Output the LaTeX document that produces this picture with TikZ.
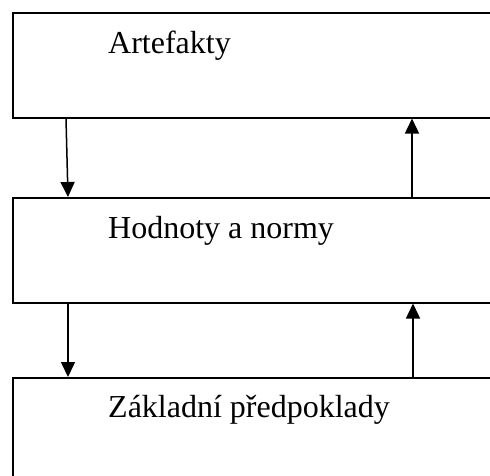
\documentclass[tikz,border=0pt]{standalone}
\usepackage{fontspec}
\setmainfont{Liberation Serif}
\usetikzlibrary{arrows.meta}
\tikzset{layerbox/.style={draw,line width=1.5pt,rectangle,minimum width=520pt,
  minimum height=105pt,inner sep=0pt,anchor=north west},
  layertext/.style={anchor=base west,inner sep=0pt,font=\fontsize{32}{38}\selectfont},
  flowarr/.style={line width=1.5pt,-{Triangle[width=14pt,length=15pt]}}}
\begin{document}
\begin{tikzpicture}[x=1pt,y=-1pt]
  \useasboundingbox (0,0) rectangle (490,475);
  \node[layerbox] (art) at (12,12) {};
  \node[layerbox] (hod) at (12,197) {};
  \node[layerbox] (zak) at (12,377) {};
  \node[layertext] (tart) at (108,53) {Artefakty};
  \node[layertext] (thod) at (108,238) {Hodnoty a normy};
  \node[layertext] (tzak) at (108,417) {Základní předpoklady};
  \draw[flowarr] ([xshift=54pt]art.south west) -- ([xshift=56pt]hod.north west);
  \draw[flowarr] ([xshift=400pt]hod.north west) -- ([xshift=400pt]art.south west);
  \draw[flowarr] ([xshift=56pt]hod.south west) -- ([xshift=56pt]zak.north west);
  \draw[flowarr] ([xshift=401pt]zak.north west) -- ([xshift=401pt]hod.south west);
\end{tikzpicture}
\end{document}
